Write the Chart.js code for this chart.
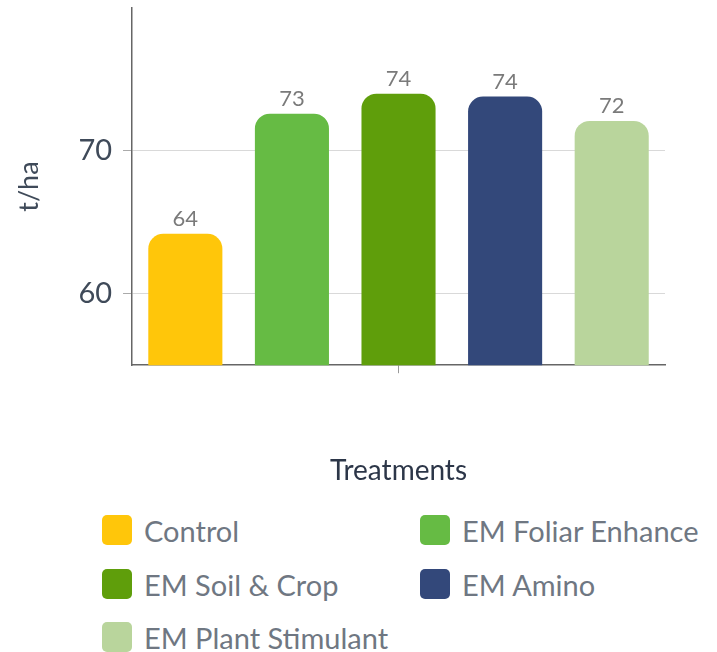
<!DOCTYPE html>
<html>
<head>
<meta charset="utf-8">
<script src="https://cdn.jsdelivr.net/npm/chart.js@4"></script>
<style>
  body { margin: 0; background: #fff; font-family: Lato, sans-serif; }
  #wrap { position: absolute; left: 0; top: 0; width: 717px; height: 492px; }
  .item { position: absolute; display: flex; align-items: center; height: 30px; font-size: 29px; color: #6f7782; white-space: nowrap; }
  .box { width: 30px; height: 30px; border-radius: 5px; margin-right: 12px; flex: none; }
</style>
</head>
<body>
<div id="wrap"><canvas id="myChart"></canvas></div>
<div id="legend"></div>
<script>
const categories = [''];
const treatments = ['Control', 'EM Foliar Enhance', 'EM Soil & Crop', 'EM Amino', 'EM Plant Stimulant'];
const yields = [64.2, 72.6, 74.0, 73.8, 72.1];
const colors = ['#ffc60a', '#66bb44', '#5f9e0b', '#33487a', '#b9d59c'];
const yTicks = [60, 70];

const ctx = document.getElementById('myChart').getContext('2d');

const datasets = treatments.map(function(name, i) {
    return {
        label: name,
        data: [yields[i]],
        backgroundColor: colors[i],
        borderRadius: 15,
        borderSkipped: 'bottom',
        barPercentage: 0.695,
        categoryPercentage: 1.0
    };
});

// labels over each bar
const valueLabels = {
    id: 'valueLabels',
    afterDatasetsDraw(chart) {
        const c = chart.ctx;
        c.save();
        c.font = '22px Lato';
        c.fillStyle = '#7a7a7a';
        c.textAlign = 'center';
        c.textBaseline = 'bottom';
        chart.data.datasets.forEach(function(ds, i) {
            const bar = chart.getDatasetMeta(i).data[0];
            c.fillText(Math.round(ds.data[0]), bar.x, bar.y - 4);
        });
        c.restore();
    }
};

const myChart = new Chart(ctx, {
    type: 'bar',
    data: { labels: categories, datasets: datasets },
    options: {
        responsive: true,
        maintainAspectRatio: false,
        animation: false,
        layout: { padding: { top: 8, right: 52, left: 9 } },
        scales: {
            x: {
                grid: { offset: false, drawOnChartArea: false, color: '#999', tickLength: 8 },
                border: { color: '#666', width: 1.5 },
                ticks: { display: true, font: { size: 1 } },
                title: {
                    display: true,
                    text: 'Treatments',
                    color: '#2c3648',
                    font: { family: 'Lato', size: 28 },
                    padding: { top: 74, bottom: 4 }
                }
            },
            y: {
                min: 55,
                max: 80,
                afterBuildTicks: function(axis) {
                    axis.ticks = yTicks.map(function(v) { return { value: v }; });
                },
                afterFit: function(axis) {
                    axis.paddingTop = 0;
                    axis.paddingBottom = 0;
                },
                grid: { color: '#d9d9d9', tickColor: '#aaa', tickLength: 9 },
                border: { color: '#666', width: 1.5 },
                ticks: { color: '#3f4a59', font: { family: 'Lato', size: 29 }, padding: 11 },
                title: {
                    display: true,
                    text: 't/ha',
                    color: '#3f4a59',
                    font: { family: 'Lato', size: 27 },
                    padding: { bottom: 22 }
                }
            }
        },
        plugins: {
            legend: { display: false },
            tooltip: { enabled: false }
        }
    },
    plugins: [valueLabels]
});

// legend in two columns under the chart
const legendPos = [[102, 515], [420, 515], [102, 569], [420, 569], [102, 622]];
const legend = document.getElementById('legend');
treatments.forEach(function(name, i) {
    const item = document.createElement('div');
    item.className = 'item';
    item.style.left = legendPos[i][0] + 'px';
    item.style.top = legendPos[i][1] + 'px';
    const box = document.createElement('span');
    box.className = 'box';
    box.style.background = colors[i];
    const txt = document.createElement('span');
    txt.textContent = name;
    item.appendChild(box);
    item.appendChild(txt);
    legend.appendChild(item);
});
</script>
</body>
</html>
